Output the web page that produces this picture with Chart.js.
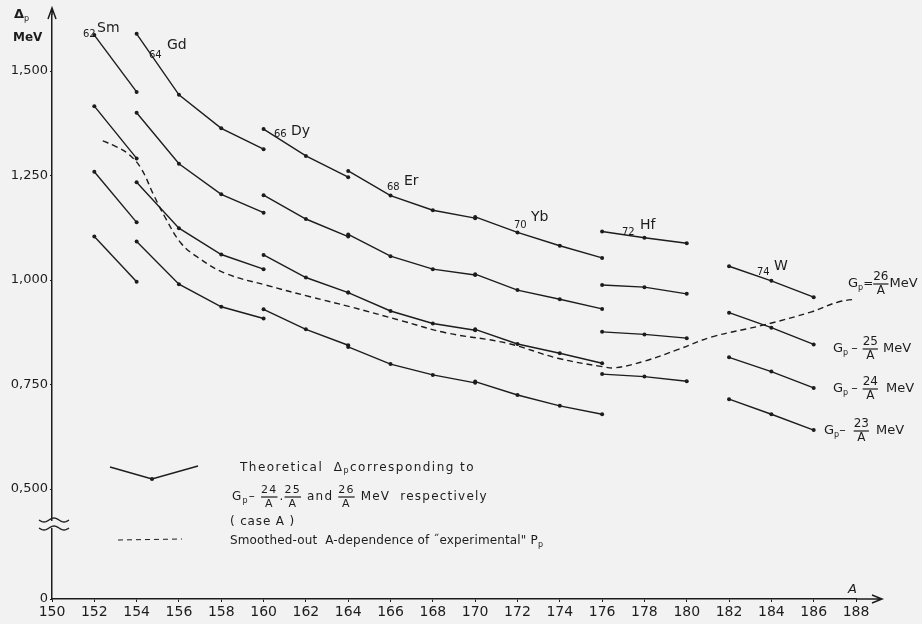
<!DOCTYPE html>
<html>
<head>
<meta charset="utf-8">
<script src="https://cdn.jsdelivr.net/npm/chart.js@4.4.0/dist/chart.umd.min.js"></script>
<style>
  html, body { margin: 0; padding: 0; background: #f2f2f2; }
  #wrap { width: 922px; height: 624px; }
</style>
</head>
<body>
<div id="wrap"><canvas id="myChart" width="922" height="624"></canvas></div>
<script>
// nuclides (Z, symbol) and their mass numbers
const elementZ = ['62', '64', '66', '68', '70', '72', '74'];
const elementSym = ['Sm', 'Gd', 'Dy', 'Er', 'Yb', 'Hf', 'W'];
const massNumbers = [[152, 154], [154, 156, 158, 160], [160, 162, 164], [164, 166, 168, 170],
  [170, 172, 174, 176], [176, 178, 180], [182, 184, 186]];

// theoretical Delta_p (MeV) for Gp = 26/A, 25/A, 24/A, 23/A
const delta26 = [[1.586, 1.450], [1.589, 1.443, 1.363, 1.313], [1.361, 1.297, 1.246], [1.261, 1.202, 1.167, 1.148],
  [1.151, 1.114, 1.082, 1.053], [1.116, 1.101, 1.088], [1.033, 0.998, 0.959]];
const delta25 = [[1.416, 1.291], [1.400, 1.278, 1.205, 1.161], [1.203, 1.146, 1.104], [1.109, 1.057, 1.026, 1.012],
  [1.014, 0.976, 0.954, 0.931], [0.988, 0.983, 0.967], [0.922, 0.886, 0.846]];
const delta24 = [[1.259, 1.138], [1.234, 1.124, 1.061, 1.026], [1.060, 1.006, 0.970], [0.970, 0.926, 0.896, 0.880],
  [0.882, 0.847, 0.825, 0.801], [0.876, 0.870, 0.861], [0.815, 0.781, 0.742]];
const delta23 = [[1.104, 0.996], [1.092, 0.990, 0.936, 0.908], [0.930, 0.882, 0.844], [0.840, 0.799, 0.773, 0.754],
  [0.757, 0.725, 0.699, 0.679], [0.775, 0.769, 0.758], [0.715, 0.679, 0.641]];

// smoothed-out "experimental" curve
const expA = [152.4, 153.0, 153.6, 154.2, 154.8, 155.4, 156.1, 156.9, 158.2, 160.1, 162.2, 164.1, 166.5,
  168.6, 171.5, 173.9, 176.0, 176.6, 178.0, 179.6, 181.2, 183.6, 185.9, 187.2, 188.4];
const expDelta = [1.333, 1.320, 1.302, 1.268, 1.204, 1.145, 1.088, 1.054, 1.016, 0.988, 0.960, 0.936, 0.903,
  0.874, 0.849, 0.813, 0.793, 0.790, 0.806, 0.834, 0.864, 0.892, 0.924, 0.948, 0.956];

const yTickValues = [0.5, 0.75, 1.0, 1.25, 1.5];
const yTickLabels = ['0,500', '0,750', '1,000', '1,250', '1,500'];
const yMin = 0.237, yMax = 1.634;

const FONT = '"DejaVu Sans", sans-serif';
const INK = '#1c1c1c';
const PAPER = '#f2f2f2';

const datasets = [];
[delta26, delta25, delta24, delta23].forEach(series => {
  massNumbers.forEach((masses, i) => {
    datasets.push({
      data: masses.map((a, j) => ({ x: a, y: series[i][j] })),
      borderColor: INK,
      backgroundColor: INK,
      borderWidth: 1.4,
      pointRadius: 2,
      pointBorderWidth: 0,
      tension: 0
    });
  });
});
datasets.push({
  data: expA.map((a, i) => ({ x: a, y: expDelta[i] })),
  borderColor: INK,
  borderWidth: 1.4,
  borderDash: [6, 4],
  pointRadius: 0,
  tension: 0.4
});

// draws a row of text pieces, subscripts and small "n/A" fractions
function drawRun(ctx, x, y, items, dry) {
  ctx.textBaseline = 'middle';
  ctx.textAlign = 'left';
  const x0 = x;
  for (const it of items) {
    if (it.frac) {
      ctx.font = `${it.size || 11}px ${FONT}`;
      const w = ctx.measureText(it.frac).width;
      if (!dry) {
        ctx.fillText(it.frac, x, y - 7);
        ctx.fillText('A', x + (w - ctx.measureText('A').width) / 2, y + 7);
        ctx.beginPath();
        ctx.lineWidth = 1.2;
        ctx.moveTo(x, y);
        ctx.lineTo(x + w, y);
        ctx.stroke();
      }
      x += w + (it.gap || 2);
    } else {
      ctx.font = `${it.bold ? 'bold ' : ''}${it.italic ? 'italic ' : ''}${it.size || 13}px ${FONT}`;
      if (!dry) ctx.fillText(it.t, x, y + (it.dy || 0));
      x += ctx.measureText(it.t).width + (it.gap || 0);
    }
  }
  return x - x0;
}

// spreads the letters so the run fills the given width
function drawRunFit(ctx, x, y, items, width) {
  ctx.letterSpacing = '0px';
  const natural = drawRun(ctx, x, y, items, true);
  const chars = items.reduce((n, it) => n + (it.t || it.frac).length, 0);
  ctx.letterSpacing = Math.max(0, (width - natural) / chars).toFixed(2) + 'px';
  drawRun(ctx, x, y, items);
  ctx.letterSpacing = '0px';
}

const annotations = {
  id: 'annotations',
  afterDraw(chart) {
    const ctx = chart.ctx;
    const { left, right, top, bottom } = chart.chartArea;
    ctx.save();
    ctx.strokeStyle = INK;
    ctx.fillStyle = INK;

    // axis arrows
    ctx.lineWidth = 1.5;
    ctx.beginPath();
    ctx.moveTo(left, top);
    ctx.lineTo(left, 8);
    ctx.moveTo(left - 4, 19);
    ctx.lineTo(left, 8);
    ctx.lineTo(left + 4, 19);
    ctx.moveTo(right, bottom);
    ctx.lineTo(882, bottom);
    ctx.moveTo(872, bottom - 4);
    ctx.lineTo(882, bottom);
    ctx.lineTo(872, bottom + 4);
    ctx.stroke();

    // axis break
    ctx.fillStyle = PAPER;
    ctx.fillRect(left - 2, 521, 4, 7);
    ctx.fillStyle = INK;
    ctx.lineWidth = 1.3;
    [520, 528].forEach(yy => {
      ctx.beginPath();
      for (let t = 0; t <= 30; t++) {
        const px = left - 13 + t;
        const py = yy + 2 * Math.sin(t / 30 * Math.PI * 3);
        if (t === 0) ctx.moveTo(px, py); else ctx.lineTo(px, py);
      }
      ctx.stroke();
    });

    // axis titles
    drawRun(ctx, 14, 15, [{ t: 'Δ', size: 13, bold: true }, { t: 'p', size: 8, dy: 4 }]);
    drawRun(ctx, 13, 38, [{ t: 'MeV', size: 12, bold: true }]);
    drawRun(ctx, 848, 590, [{ t: 'A', size: 13, italic: true }]);

    // nuclide labels
    const labelPos = [[83, 34, 97, 28], [149, 55, 167, 45], [274, 134, 291, 131], [387, 187, 404, 181],
      [514, 225, 531, 217], [622, 232, 640, 225], [757, 272, 774, 266]];
    elementSym.forEach((sym, i) => {
      const p = labelPos[i];
      drawRun(ctx, p[0], p[1], [{ t: elementZ[i], size: 10 }]);
      drawRun(ctx, p[2], p[3], [{ t: sym, size: 14 }]);
    });

    // Gp labels at the right
    ctx.lineWidth = 1.2;
    drawRun(ctx, 848, 284, [{ t: 'G', size: 13 }, { t: 'p', size: 8, dy: 4 }, { t: '=', size: 12 }, { frac: '26', size: 12, gap: 1 }, { t: 'MeV', size: 13 }]);
    drawRun(ctx, 833, 349, [{ t: 'G', size: 13 }, { t: 'p', size: 8, dy: 4, gap: 3 }, { t: '–', size: 13, gap: 5 }, { frac: '25', size: 12, gap: 5 }, { t: 'MeV', size: 13 }]);
    drawRun(ctx, 833, 389, [{ t: 'G', size: 13 }, { t: 'p', size: 8, dy: 4, gap: 3 }, { t: '–', size: 13, gap: 5 }, { frac: '24', size: 12, gap: 8 }, { t: 'MeV', size: 13 }]);
    drawRun(ctx, 824, 431, [{ t: 'G', size: 13 }, { t: 'p', size: 8, dy: 4 }, { t: '–', size: 13, gap: 8 }, { frac: '23', size: 12, gap: 7 }, { t: 'MeV', size: 13 }]);

    // legend
    ctx.lineWidth = 1.4;
    ctx.beginPath();
    ctx.moveTo(110, 467);
    ctx.lineTo(152, 479);
    ctx.lineTo(198, 466);
    ctx.stroke();
    ctx.beginPath();
    ctx.arc(152, 479, 2, 0, Math.PI * 2);
    ctx.fill();
    ctx.setLineDash([5, 4]);
    ctx.lineWidth = 1;
    ctx.beginPath();
    ctx.moveTo(118, 540);
    ctx.lineTo(182, 539);
    ctx.stroke();
    ctx.setLineDash([]);

    drawRunFit(ctx, 240, 468, [{ t: 'Theoretical  Δ', size: 12 }, { t: 'p', size: 8, dy: 3 }, { t: 'corresponding to', size: 12 }], 235);
    drawRunFit(ctx, 232, 497, [{ t: 'G', size: 12 }, { t: 'p', size: 8, dy: 4 }, { t: '– ', size: 12 }, { frac: '24', size: 11, gap: 0 },
      { t: '.', size: 12 }, { frac: '25', size: 11, gap: 6 }, { t: 'and ', size: 12 }, { frac: '26', size: 11, gap: 6 },
      { t: 'MeV  respectively', size: 12 }], 256);
    drawRunFit(ctx, 230, 522, [{ t: '( case A )', size: 12 }], 65);
    drawRunFit(ctx, 230, 541, [{ t: 'Smoothed-out  A-dependence of ˝experimental" P', size: 12 }, { t: 'p', size: 8, dy: 4 }], 313);
    ctx.restore();
  }
};

new Chart(document.getElementById('myChart'), {
  type: 'line',
  data: { datasets },
  options: {
    responsive: false,
    animation: false,
    layout: { padding: { left: 0, right: 66, top: 15, bottom: 0 } },
    plugins: { legend: { display: false }, tooltip: { enabled: false } },
    scales: {
      x: {
        type: 'linear',
        min: 150,
        max: 188,
        afterFit(scale) { scale.height = 25; },
        ticks: { stepSize: 2, autoSkip: false, maxRotation: 0, padding: 2, color: INK, font: { family: FONT, size: 14 } },
        grid: { drawOnChartArea: false, tickLength: 3, color: INK },
        border: { color: INK, width: 1.5 }
      },
      y: {
        min: yMin,
        max: yMax,
        afterFit(scale) { scale.width = 52; },
        afterBuildTicks(scale) {
          scale.ticks = [{ value: yMin }].concat(yTickValues.map(v => ({ value: v })));
        },
        ticks: {
          padding: 2,
          color: INK,
          font: { family: FONT, size: 13 },
          callback: v => (v === yMin ? '0' : yTickLabels[yTickValues.indexOf(v)])
        },
        grid: { drawOnChartArea: false, tickLength: 2, color: INK },
        border: { color: INK, width: 1.5 }
      }
    }
  },
  plugins: [annotations]
});
</script>
</body>
</html>
